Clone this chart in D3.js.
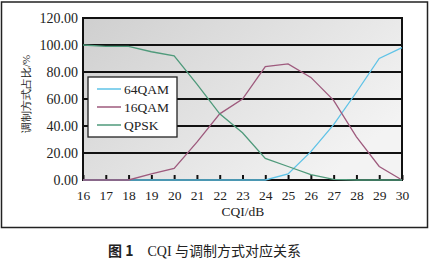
<!DOCTYPE html>
<html>
<head>
<meta charset="utf-8">
<script src="https://cdnjs.cloudflare.com/ajax/libs/d3/7.8.5/d3.min.js"></script>
<style>
  body { margin: 0; background: #fff; }
  text { font-family: "Liberation Serif", "DejaVu Serif", serif; fill: #222; }
</style>
</head>
<body>
<div id="container"></div>
<script>
const width = 430;
const height = 262;
const margin = { top: 18, bottom: 82, left: 83, right: 28 };

// data
const cqi = [16, 17, 18, 19, 20, 21, 22, 23, 24, 25, 26, 27, 28, 29, 30];
const qam64 = [0, 0, 0, 0, 0, 0, 0, 0, 0, 4.5, 21, 41, 65, 90, 98];
const qam16 = [0, 0, 0, 4.5, 8.6, 28, 49, 60, 84, 86, 76, 59, 32, 10, 0];
const qpsk = [100, 99, 99, 95, 92, 71, 49, 35, 16, 10, 4, 0.5, 0, 0, 0];
const seriesNames = ['64QAM', '16QAM', 'QPSK'];
const seriesColors = ['#5fc3e7', '#9e5a7d', '#4f9a7b'];
const yTicks = [0, 20, 40, 60, 80, 100, 120];

const svg = d3.select("#container")
    .append('svg')
    .attr('width', width)
    .attr('height', height)
    .attr('viewBox', [0, 0, width, height]);

// outer frame
svg.append('rect')
    .attr('x', 1.5).attr('y', 2)
    .attr('width', 426).attr('height', 225.5)
    .attr('fill', 'none')
    .attr('stroke', '#222')
    .attr('stroke-width', 1.5);

const x = d3.scaleLinear()
    .domain([16, 30])
    .range([margin.left, width - margin.right]);

const y = d3.scaleLinear()
    .domain([0, 120])
    .range([height - margin.bottom, margin.top]);

// plot background
const grad = svg.append('defs').append('linearGradient')
    .attr('id', 'bg')
    .attr('x1', '0%').attr('y1', '0%')
    .attr('x2', '100%').attr('y2', '60%');
grad.append('stop').attr('offset', '0%').attr('stop-color', '#cfcfcf');
grad.append('stop').attr('offset', '100%').attr('stop-color', '#f3f3f3');

svg.append('rect')
    .attr('x', x(16)).attr('y', y(120))
    .attr('width', x(30) - x(16))
    .attr('height', y(0) - y(120))
    .attr('fill', 'url(#bg)');

// grid lines
svg.append('g')
    .selectAll('line')
    .data(yTicks)
    .join('line')
    .attr('x1', x(16)).attr('x2', x(30))
    .attr('y1', d => y(d)).attr('y2', d => y(d))
    .attr('stroke', '#111')
    .attr('stroke-width', 2);

svg.append('rect')
    .attr('x', x(16)).attr('y', y(120))
    .attr('width', x(30) - x(16))
    .attr('height', y(0) - y(120))
    .attr('fill', 'none')
    .attr('stroke', '#111')
    .attr('stroke-width', 2);

// y axis
const yAxis = svg.append('g')
    .attr('transform', `translate(${margin.left},0)`)
    .call(d3.axisLeft(y)
        .tickValues(yTicks)
        .tickFormat(d3.format('.2f'))
        .tickSize(0)
        .tickPadding(5));
yAxis.select('.domain').remove();
yAxis.selectAll('text')
    .attr('font-size', 14)
    .attr('font-family', '"Liberation Serif", serif')
    .attr('fill', '#222');

// x axis, ticks pointing up into the plot
const xAxis = svg.append('g')
    .attr('transform', `translate(0,${height - margin.bottom})`)
    .call(d3.axisBottom(x)
        .tickValues(cqi)
        .tickFormat(d => d)
        .tickSize(-5)
        .tickPadding(10));
xAxis.select('.domain').remove();
xAxis.selectAll('line')
    .attr('stroke', '#111')
    .attr('stroke-width', 2);
xAxis.selectAll('text')
    .attr('font-size', 13.5)
    .attr('font-family', '"Liberation Serif", serif')
    .attr('fill', '#222');

// series lines
const line = d3.line()
    .x((d, i) => x(cqi[i]))
    .y(d => y(d));

[qam64, qam16, qpsk].forEach((values, k) => {
    svg.append('path')
        .datum(values)
        .attr('d', line)
        .attr('fill', 'none')
        .attr('stroke', seriesColors[k])
        .attr('stroke-width', 1.3);
});

// legend
const legend = svg.append('g').attr('transform', 'translate(88,77)');
legend.append('rect')
    .attr('width', 89).attr('height', 60)
    .attr('fill', '#fff')
    .attr('stroke', '#222')
    .attr('stroke-width', 1.3);
seriesNames.forEach((name, k) => {
    const row = legend.append('g').attr('transform', `translate(0,${12 + k * 18})`);
    row.append('line')
        .attr('x1', 9).attr('x2', 33)
        .attr('stroke', seriesColors[k])
        .attr('stroke-width', 1.5);
    row.append('text')
        .attr('x', 36).attr('y', 4.5)
        .attr('font-size', 13.5)
        .text(name);
});

// axis titles
svg.append('text')
    .attr('transform', `translate(30,94) rotate(-90)`)
    .attr('text-anchor', 'middle')
    .attr('font-family', '"Noto Sans CJK SC", sans-serif')
    .attr('font-size', 11)
    .attr('fill', '#444')
    .text('调制方式占比/%');

svg.append('text')
    .attr('x', 243).attr('y', 216)
    .attr('text-anchor', 'middle')
    .attr('font-size', 13.5)
    .text('CQI/dB');

// caption
const caption = svg.append('text')
    .attr('x', 108).attr('y', 256)
    .attr('font-size', 14);
caption.append('tspan')
    .attr('font-family', '"Noto Sans CJK SC", sans-serif')
    .attr('font-weight', 'bold')
    .text('图 1');
caption.append('tspan')
    .attr('dx', 14)
    .text('CQI ');
caption.append('tspan')
    .attr('font-family', '"Noto Sans CJK SC", serif')
    .text('与调制方式对应关系');
</script>
</body>
</html>
